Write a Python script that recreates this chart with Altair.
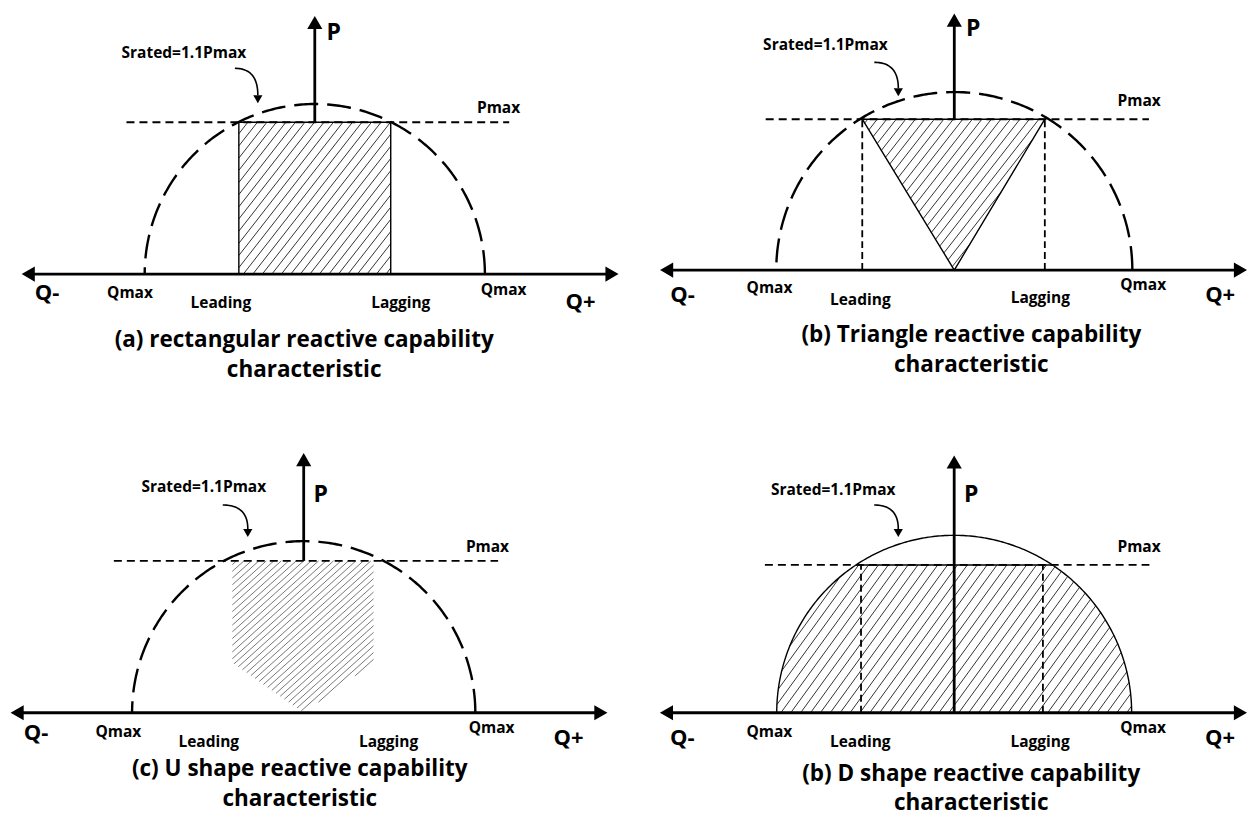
import altair as alt
import numpy as np
import pandas as pd

# ---------------- values (units: Pmax = 1) ----------------
TITLE_LINE_1 = ["(a) rectangular reactive capability", "(b) Triangle reactive capability",
                "(c) U shape reactive capability", "(b) D shape reactive capability"]
TITLE_LINE_2 = ["characteristic", "characteristic", "characteristic", "characteristic"]
LABEL_TEXT = ["P", "Srated=1.1Pmax", "Pmax", "Q-", "Qmax", "Leading", "Lagging", "Qmax", "Q+"]

PMAX = 1.0
S_RATED_RADIUS = [1.12, 1.18, 1.13, 1.20]
Q_AXIS_LEFT = [-1.93, -1.95, -1.93, -1.99]
Q_AXIS_RIGHT = [2.00, 1.94, 2.00, 1.98]
P_AXIS_BOTTOM = [1.0, 1.0, 1.0, 0.0]
P_AXIS_TOP = [1.70, 1.70, 1.71, 1.74]
PMAX_LINE_LEFT = [-1.24, -1.25, -1.25, -1.28]
PMAX_LINE_RIGHT = [1.28, 1.29, 1.28, 1.32]

# visible window of each panel
Q_VIEW = [[-2.020, 2.059], [-2.113, 1.940], [-1.947, 2.132], [-2.155, 1.980]]
P_VIEW = [[-0.829, 1.750], [-0.861, 1.735], [-0.678, 2.007], [-0.696, 2.061]]

# operating regions
REGION_A_Q = [-0.50, 0.50, 0.50, -0.50]
REGION_A_P = [0.0, 0.0, 1.0, 1.0]
REGION_B_Q = [-0.61, 0.60, 0.0]
REGION_B_P = [1.0, 1.0, 0.0]
REGION_C_Q = [-0.47, 0.46, 0.46, 0.0, -0.47]
REGION_C_P = [1.0, 1.0, 0.33, 0.0, 0.33]
LIMIT_LINES_B = [-0.61, 0.60]
LIMIT_LINES_D = [-0.63, 0.60]

# label positions per panel (same order as LABEL_TEXT)
LABEL_Q = [
    [0.125, -0.862, 1.21, -1.763, -1.217, -0.618, 0.566, 1.243, 1.75],
    [0.126, -0.854, 1.225, -1.801, -1.225, -0.623, 0.570, 1.252, 1.762],
    [0.112, -0.658, 1.21, -1.763, -1.22, -0.625, 0.559, 1.237, 1.743],
    [0.115, -0.818, 1.25, -1.838, -1.25, -0.635, 0.581, 1.277, 1.797],
]
LABEL_P = [
    [1.59, 1.454, 1.092, -0.125, -0.125, -0.191, -0.191, -0.105, -0.184],
    [1.60, 1.49, 1.119, -0.166, -0.119, -0.199, -0.185, -0.099, -0.166],
    [1.434, 1.487, 1.092, -0.132, -0.125, -0.190, -0.190, -0.099, -0.164],
    [1.473, 1.507, 1.122, -0.169, -0.128, -0.196, -0.196, -0.101, -0.169],
]
TITLE_Q = [-0.070, 0.113, -0.026, 0.115]
TITLE_P1 = [-0.434, -0.430, -0.368, -0.412]
TITLE_P2 = [-0.632, -0.629, -0.566, -0.608]

# curved pointer from the Srated label to the circle
POINTER_START_Q = [-0.526, -0.530, -0.533, -0.541]
POINTER_START_P = [1.355, 1.377, 1.368, 1.405]
POINTER_TIP_Q = [-0.375, -0.371, -0.368, -0.378]
POINTER_TIP_P = [1.125, 1.152, 1.158, 1.189]

# ---------------- styles ----------------
FONT = "Open Sans"
LABEL_SIZE = [23, 15.5, 15.5, 22, 15.5, 15.5, 15.5, 15.5, 22]
TITLE_SIZE = 22.5
PANEL_W = [620, 612, 620, 612]
PANEL_H = [392, 392, 408, 408]
HATCH = [(52, 7.5, "#333333", 1.0), (52, 7.5, "#333333", 1.0),
         (42, 5.0, "#777777", 1.0), (54, 8.0, "#333333", 1.0)]
AXIS_HEAD = 230
POINTER_HEAD = 85


def px_per_unit(i):
    return PANEL_W[i] / (Q_VIEW[i][1] - Q_VIEW[i][0])


def scales(i):
    xs = alt.Scale(domain=Q_VIEW[i], nice=False, zero=False)
    ys = alt.Scale(domain=P_VIEW[i], nice=False, zero=False)
    return xs, ys


def hatch_segments(poly_q, poly_p, angle_deg, spacing):
    th = np.radians(angle_deg)
    d = np.array([np.cos(th), np.sin(th)])
    n = np.array([-np.sin(th), np.cos(th)])
    V = np.column_stack([poly_q, poly_p])
    proj = V @ n
    rows = []
    m = len(V)
    for c in np.arange(proj.min() + spacing * 0.5, proj.max(), spacing):
        pts = []
        for k in range(m):
            v1, v2 = V[k], V[(k + 1) % m]
            f1, f2 = v1 @ n - c, v2 @ n - c
            if (f1 <= 0 < f2) or (f2 <= 0 < f1):
                t = f1 / (f1 - f2)
                pts.append(v1 + t * (v2 - v1))
        if len(pts) >= 2:
            pts = sorted(pts, key=lambda v: v @ d)
            a, b = pts[0], pts[-1]
            rows.append(dict(q=a[0], p=a[1], q2=b[0], p2=b[1]))
    return pd.DataFrame(rows)


def polyline(q, p):
    return pd.DataFrame({"q": list(q), "p": list(p), "i": list(range(len(q)))})


def panel(i):
    xs, ys = scales(i)
    X = alt.X("q:Q", scale=xs, axis=None)
    Y = alt.Y("p:Q", scale=ys, axis=None)
    u = px_per_unit(i)
    R = S_RATED_RADIUS[i]
    layers = []

    def rules(df, **kw):
        return alt.Chart(df).mark_rule(**kw).encode(x=X, y=Y, x2="q2:Q", y2="p2:Q")

    def line(df, **kw):
        return alt.Chart(df).mark_line(**kw).encode(x=X, y=Y, order="i:Q")

    # operating region polygon
    if i == 0:
        rq, rp = REGION_A_Q, REGION_A_P
    elif i == 1:
        rq, rp = REGION_B_Q, REGION_B_P
    elif i == 2:
        rq, rp = REGION_C_Q, REGION_C_P
    else:
        a = np.arcsin(PMAX / R)
        left = np.linspace(np.pi, np.pi - a, 60)
        right = np.linspace(a, 0, 60)
        th = np.concatenate([left, right])
        rq, rp = list(R * np.cos(th)), list(R * np.sin(th))

    ang, sp, col, sw = HATCH[i]
    layers.append(rules(hatch_segments(rq, rp, ang, sp / u), color=col, strokeWidth=sw))

    # outlines
    if i in (0, 1):
        layers.append(line(polyline(list(rq) + [rq[0]], list(rp) + [rp[0]]),
                           color="black", strokeWidth=1.4))
    if i == 3:
        th = np.linspace(0, np.pi, 241)
        layers.append(line(polyline(R * np.cos(th), R * np.sin(th)), color="black", strokeWidth=1.4))

    # dashed limits
    if i in (1, 3):
        lim = LIMIT_LINES_B if i == 1 else LIMIT_LINES_D
        df = pd.DataFrame({"q": lim, "q2": lim, "p": [0.0, 0.0], "p2": [PMAX, PMAX]})
        layers.append(rules(df, color="black", strokeWidth=1.8, strokeDash=[7, 4]))

    # Pmax line
    df = pd.DataFrame({"q": [PMAX_LINE_LEFT[i]], "q2": [PMAX_LINE_RIGHT[i]], "p": [PMAX], "p2": [PMAX]})
    layers.append(rules(df, color="black", strokeWidth=1.9, strokeDash=[8, 5]))
    if i == 3:
        qi = np.sqrt(R ** 2 - PMAX ** 2)
        df = pd.DataFrame({"q": [-qi], "q2": [qi], "p": [PMAX], "p2": [PMAX]})
        layers.append(rules(df, color="black", strokeWidth=1.5))

    # Srated circle
    if i != 3:
        th = np.linspace(0, np.pi, 241)
        layers.append(line(polyline(R * np.cos(th), R * np.sin(th)),
                           color="black", strokeWidth=2.4, strokeDash=[24, 9]))

    # axes
    hl = 0.433 * np.sqrt(AXIS_HEAD) / u
    df = pd.DataFrame({"q": [Q_AXIS_LEFT[i] + hl, 0.0], "q2": [Q_AXIS_RIGHT[i] - hl, 0.0],
                       "p": [0.0, P_AXIS_BOTTOM[i]], "p2": [0.0, P_AXIS_TOP[i] - hl]})
    layers.append(rules(df, color="black", strokeWidth=2.8))
    heads = pd.DataFrame({"q": [Q_AXIS_LEFT[i] + hl, Q_AXIS_RIGHT[i] - hl, 0.0],
                          "p": [0.0, 0.0, P_AXIS_TOP[i] - hl],
                          "shape": ["triangle-left", "triangle-right", "triangle-up"]})
    layers.append(alt.Chart(heads).mark_point(filled=True, color="black", opacity=1, size=AXIS_HEAD)
                  .encode(x=X, y=Y, shape=alt.Shape("shape:N", scale=None)))

    # curved pointer
    ph = 0.433 * np.sqrt(POINTER_HEAD) / u
    S = np.array([POINTER_START_Q[i], POINTER_START_P[i]])
    T = np.array([POINTER_TIP_Q[i], POINTER_TIP_P[i] + 2 * ph])
    C = np.array([T[0], S[1]])
    t = np.linspace(0, 1, 30)[:, None]
    B = (1 - t) ** 2 * S + 2 * t * (1 - t) * C + t ** 2 * T
    layers.append(line(polyline(B[:, 0], B[:, 1]), color="black", strokeWidth=1.6))
    layers.append(alt.Chart(pd.DataFrame({"q": [POINTER_TIP_Q[i]], "p": [POINTER_TIP_P[i] + ph]}))
                  .mark_point(filled=True, color="black", opacity=1, size=POINTER_HEAD, shape="triangle-down")
                  .encode(x=X, y=Y))

    # labels
    lab = pd.DataFrame({"text": LABEL_TEXT, "q": LABEL_Q[i], "p": LABEL_P[i], "size": LABEL_SIZE})
    layers.append(alt.Chart(lab).mark_text(font=FONT, fontWeight="bold", align="center",
                                           baseline="middle", color="black")
                  .encode(x=X, y=Y, text="text:N", size=alt.Size("size:Q", scale=None)))
    tit = pd.DataFrame({"text": [TITLE_LINE_1[i], TITLE_LINE_2[i]], "q": [TITLE_Q[i]] * 2,
                        "p": [TITLE_P1[i], TITLE_P2[i]]})
    layers.append(alt.Chart(tit).mark_text(font=FONT, fontWeight="bold", align="center",
                                           baseline="middle", color="black", fontSize=TITLE_SIZE)
                  .encode(x=X, y=Y, text="text:N"))

    return alt.layer(*layers).properties(width=PANEL_W[i], height=PANEL_H[i])


chart = (alt.concat(panel(0), panel(1), panel(2), panel(3), columns=2, spacing=8, bounds="flush")
         .properties(padding=0, background="white")
         .configure_view(strokeWidth=0))

chart.save("out.html", embed_options={"renderer": "svg", "actions": False})
